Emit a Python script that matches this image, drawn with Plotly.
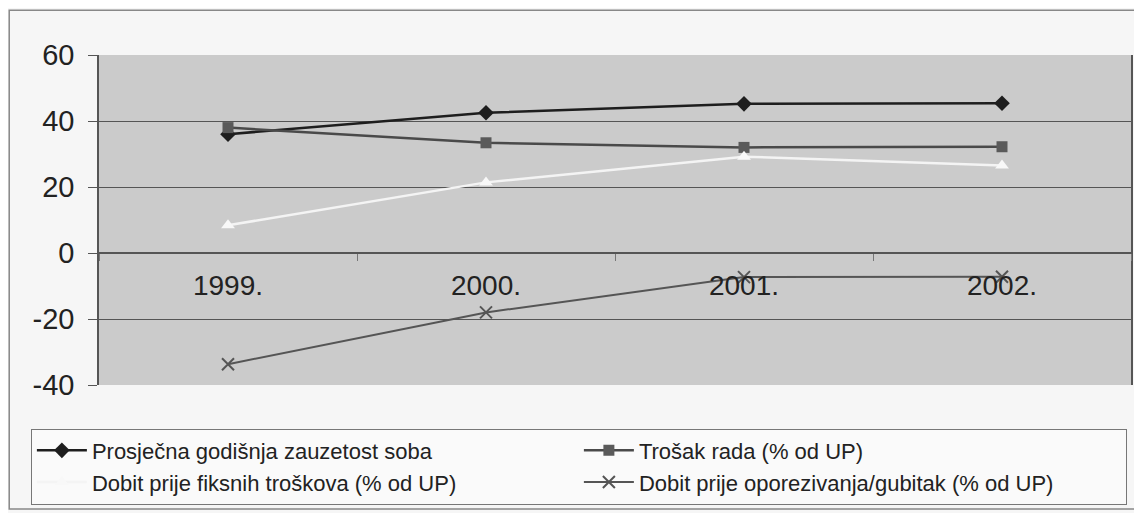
import plotly.graph_objects as go

years = ['1999.', '2000.', '2001.', '2002.']
zauzetost = [36, 42.5, 45.2, 45.4]
trosak_rada = [38, 33.4, 32, 32.2]
dobit_fiksni = [8.4, 21.4, 29.2, 26.5]
dobit_oporez = [-33.7, -18, -7.3, -7.2]

y_ticks = [-40, -20, 0, 20, 40, 60]
y_labels = ['-40', '-20', '0', '20', '40', '60']

names = ['Prosječna godišnja zauzetost soba', 'Trošak rada (% od UP)',
         'Dobit prije fiksnih troškova (% od UP)', 'Dobit prije oporezivanja/gubitak (% od UP)']

fig = go.Figure()
fig.add_trace(go.Scatter(x=years, y=zauzetost, name=names[0], mode='lines+markers',
                         line=dict(color='#1e1e1e', width=2.5),
                         marker=dict(symbol='diamond', size=12, color='#1e1e1e')))
fig.add_trace(go.Scatter(x=years, y=trosak_rada, name=names[1], mode='lines+markers',
                         line=dict(color='#4a4a4a', width=2.5),
                         marker=dict(symbol='square', size=11, color='#5a5a5a')))
fig.add_trace(go.Scatter(x=years, y=dobit_fiksni, name=names[2], mode='lines+markers',
                         line=dict(color='#f4f4f4', width=2.5),
                         marker=dict(symbol='triangle-up', size=12, color='#f8f8f8')))
fig.add_trace(go.Scatter(x=years, y=dobit_oporez, name=names[3], mode='lines+markers',
                         line=dict(color='#555555', width=2),
                         marker=dict(symbol='x-thin', size=12, line=dict(color='#555555', width=2))))

# the page body adds 8px around the figure, so the figure is 8px smaller
fig.update_layout(
    width=1134, height=505,
    margin=dict(l=91, r=9, t=47, b=126),
    paper_bgcolor='#f6f6f6',
    plot_bgcolor='#cbcbcb',
    font=dict(family='Liberation Sans, Arial', color='#1e1e1e'),
    xaxis=dict(type='category', anchor='free', position=0.4, showgrid=False,
               showline=True, linecolor='#555555', linewidth=1.5,
               ticks='outside', tickson='boundaries', ticklen=7, tickcolor='#777777',
               tickfont=dict(size=28, color='#222222'), ticklabelstandoff=8,
               range=[-0.5, 3.5]),
    yaxis=dict(range=[-40, 60], tickvals=y_ticks, ticktext=y_labels,
               showgrid=True, gridcolor='#555555', gridwidth=1.2,
               zeroline=False, showline=True, linecolor='#555555', linewidth=1.5,
               ticks='outside', ticklen=9, tickcolor='#555555', ticklabelstandoff=8,
               tickfont=dict(size=29, color='#222222'), mirror=True),
    legend=dict(orientation='h', x=-0.066, xanchor='left', y=-0.132, yanchor='top',
                entrywidth=482, bgcolor='#fafafa', bordercolor='#777777', borderwidth=1,
                font=dict(size=22, color='#222222'), itemwidth=50),
    showlegend=True,
)
fig.add_shape(type='rect', xref='paper', yref='paper', x0=-0.087, x1=1.0077, y0=-0.376, y1=1.1355,
              line=dict(color='#888888', width=1.5), layer='below')

fig.write_html("out.html")
